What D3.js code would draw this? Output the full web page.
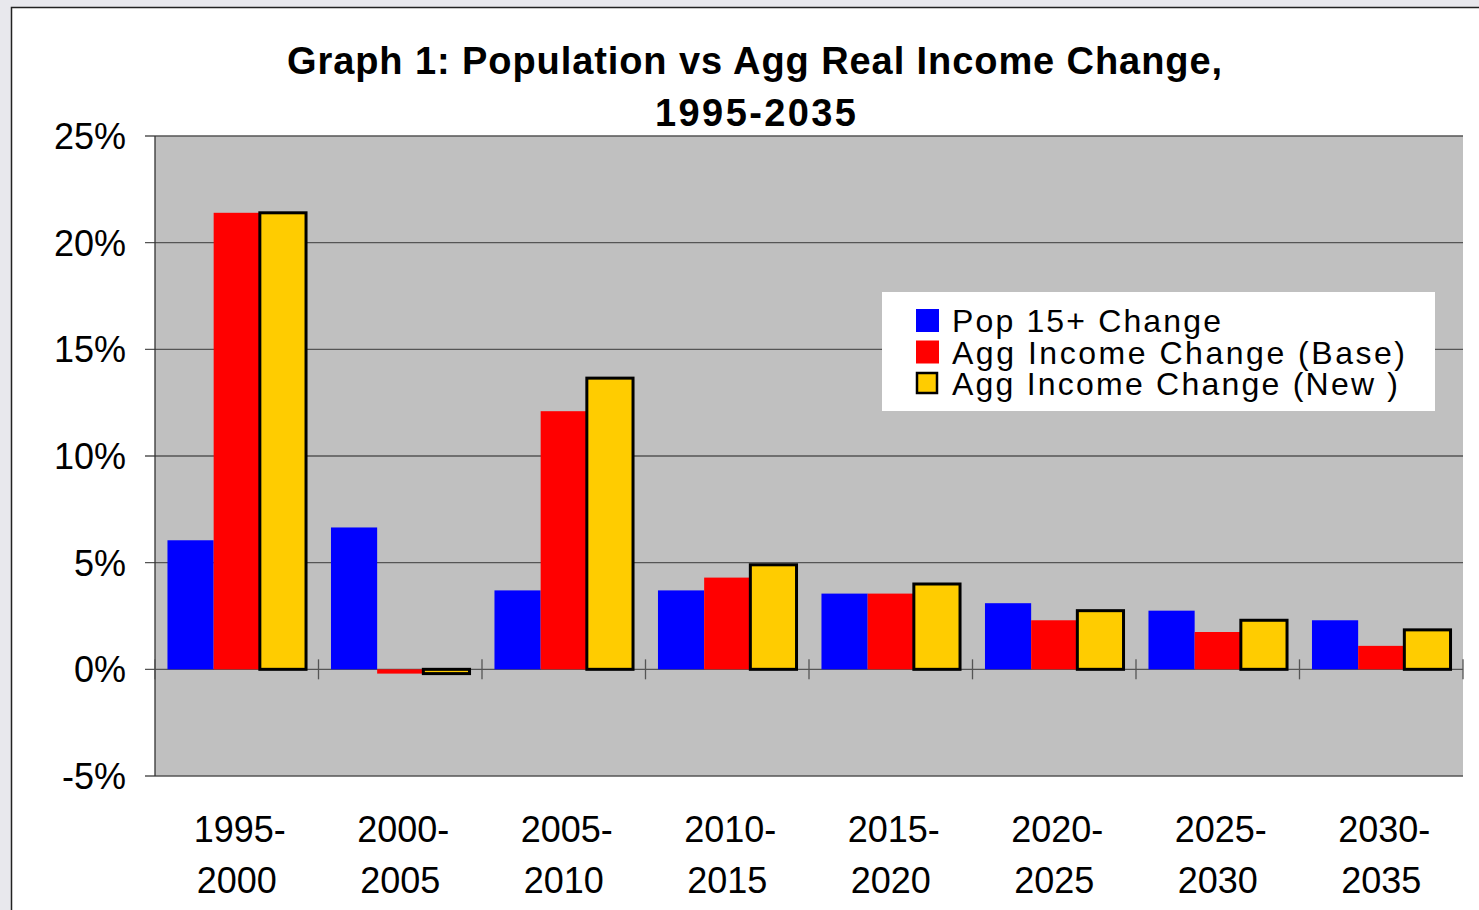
<!DOCTYPE html>
<html>
<head>
<meta charset="utf-8">
<script src="https://cdn.jsdelivr.net/npm/d3@7"></script>
<style>
  html, body { margin: 0; padding: 0; background: #e8e8ed; }
  svg { display: block; }
</style>
</head>
<body>
<div id="chart"></div>
<script>
const periods = ["1995-2000", "2000-2005", "2005-2010", "2010-2015", "2015-2020", "2020-2025", "2025-2030", "2030-2035"];
const seriesNames = ["Pop 15+ Change", "Agg Income Change (Base)", "Agg Income Change (New )"];
const popChange = [6.05, 6.65, 3.7, 3.7, 3.55, 3.1, 2.75, 2.3];
const incomeBase = [21.4, -0.2, 12.1, 4.3, 3.55, 2.3, 1.75, 1.1];
const incomeNew = [21.4, -0.2, 13.65, 4.9, 4.0, 2.75, 2.3, 1.85];
const yTicks = [-5, 0, 5, 10, 15, 20, 25];
const colors = ["#0000ff", "#ff0000", "#ffcc00"];

function main() {
  const W = 1479, H = 910;
  const svg = d3.select("#chart").append("svg")
      .attr("width", W)
      .attr("height", H)
      .attr("font-family", "Arial, 'Liberation Sans', sans-serif");

  // white chart frame
  svg.append("rect")
      .attr("x", 11.5).attr("y", 7.5)
      .attr("width", W).attr("height", H)
      .attr("fill", "white")
      .attr("stroke", "#222").attr("stroke-width", 1.5);

  const left = 155, right = 1463, top = 136, bottom = 776;

  const x = d3.scaleBand().domain(periods).range([left, right]).paddingInner(0).paddingOuter(0);
  const xs = d3.scaleBand().domain(d3.range(3)).range([0, x.bandwidth()]).paddingOuter(0.27).paddingInner(0);
  const y = d3.scaleLinear().domain([-5, 25]).range([bottom, top]);

  // plot area
  svg.append("rect")
      .attr("x", left).attr("y", top)
      .attr("width", right - left).attr("height", bottom - top)
      .attr("fill", "#c0c0c0");

  // gridlines
  svg.append("g")
    .selectAll("line")
    .data(yTicks)
    .join("line")
      .attr("x1", left - 10).attr("x2", right)
      .attr("y1", d => y(d)).attr("y2", d => y(d))
      .attr("stroke", "#555").attr("stroke-width", 1.3);

  // y axis line
  svg.append("line")
      .attr("x1", left).attr("x2", left)
      .attr("y1", top).attr("y2", bottom)
      .attr("stroke", "#333").attr("stroke-width", 1.3);

  // y labels
  svg.append("g")
    .selectAll("text")
    .data(yTicks)
    .join("text")
      .attr("x", 126)
      .attr("y", d => y(d))
      .attr("dy", "0.36em")
      .attr("text-anchor", "end")
      .attr("font-size", 36)
      .attr("fill", "#000")
      .text(d => d + "%");

  // category ticks at zero
  svg.append("g")
    .selectAll("line")
    .data(periods)
    .join("line")
      .attr("x1", d => x(d)).attr("x2", d => x(d))
      .attr("y1", y(0) - 10).attr("y2", y(0) + 10)
      .attr("stroke", "#555").attr("stroke-width", 1.3);
  svg.append("line")
      .attr("x1", right).attr("x2", right)
      .attr("y1", y(0) - 10).attr("y2", y(0) + 10)
      .attr("stroke", "#555").attr("stroke-width", 1.3);

  const data = periods.map((p, i) => ({
    period: p,
    values: [popChange[i], incomeBase[i], incomeNew[i]]
  }));

  const group = svg.append("g")
    .selectAll("g")
    .data(data)
    .join("g")
      .attr("transform", d => `translate(${x(d.period)},0)`);

  group.selectAll("rect")
    .data(d => d.values.map((v, k) => ({ v, k })))
    .join("rect")
      .attr("x", d => xs(d.k))
      .attr("y", d => y(Math.max(0, d.v)))
      .attr("width", xs.bandwidth())
      .attr("height", d => Math.abs(y(d.v) - y(0)))
      .attr("fill", d => colors[d.k])
      .attr("stroke", d => d.k === 2 ? "#000" : "none")
      .attr("stroke-width", 3);

  // x labels
  const xl = svg.append("g")
    .selectAll("text")
    .data(periods)
    .join("text")
      .attr("text-anchor", "middle")
      .attr("font-size", 36)
      .attr("fill", "#000");
  xl.append("tspan")
      .attr("x", d => x(d) + x.bandwidth() / 2 + 3)
      .attr("y", 842)
      .text(d => d.split("-")[0] + "-");
  xl.append("tspan")
      .attr("x", d => x(d) + x.bandwidth() / 2)
      .attr("y", 893)
      .text(d => d.split("-")[1]);

  // title
  svg.append("text")
      .attr("x", 287).attr("y", 74)
      .attr("font-size", 38)
      .attr("font-weight", "bold")
      .attr("fill", "#000")
      .attr("textLength", 935)
      .attr("lengthAdjust", "spacing")
      .text("Graph 1: Population vs Agg Real Income Change,");
  svg.append("text")
      .attr("x", 655).attr("y", 126)
      .attr("font-size", 38)
      .attr("font-weight", "bold")
      .attr("fill", "#000")
      .attr("textLength", 201)
      .attr("lengthAdjust", "spacing")
      .text("1995-2035");

  // legend
  const legendLen = [269, 453, 446];
  const lg = svg.append("g");
  lg.append("rect")
      .attr("x", 882).attr("y", 292)
      .attr("width", 553).attr("height", 119)
      .attr("fill", "white");
  const items = lg.selectAll("g")
    .data(seriesNames)
    .join("g")
      .attr("transform", (d, i) => `translate(916,${309 + i * 31.5})`);
  items.append("rect")
      .attr("x", (d, i) => i === 2 ? 1 : 0)
      .attr("y", (d, i) => i === 2 ? 1 : 0)
      .attr("width", (d, i) => i === 2 ? 20 : 23)
      .attr("height", (d, i) => i === 2 ? 20 : 23)
      .attr("fill", (d, i) => colors[i])
      .attr("stroke", (d, i) => i === 2 ? "#000" : "none")
      .attr("stroke-width", 2.5);
  items.append("text")
      .attr("x", 36)
      .attr("y", 23)
      .attr("font-size", 32)
      .attr("fill", "#000")
      .attr("textLength", (d, i) => legendLen[i])
      .attr("lengthAdjust", "spacing")
      .text(d => d);
}

main();
</script>
</body>
</html>
